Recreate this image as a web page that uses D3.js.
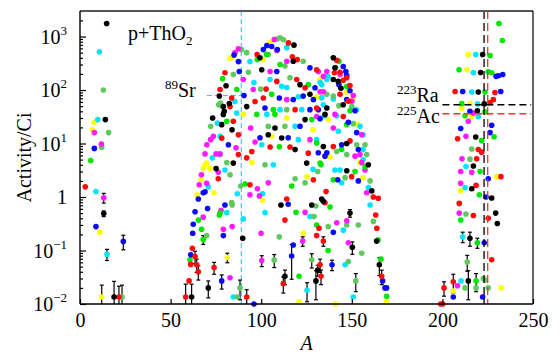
<!DOCTYPE html>
<html>
<head>
<meta charset="utf-8">
<script src="https://cdn.jsdelivr.net/npm/d3@7"></script>
<style>
  body { margin: 0; background: #fff; }
  svg text { font-family: "Liberation Serif", "Times New Roman", serif; }
</style>
</head>
<body>
<svg width="560" height="356"></svg>
<script>
// activity (Ci) vs mass number A, one array per colour, [A, activity, error?]
const black = [
  [14.7,1750],[14.0,28],[13.1,0.49,0.06],[18.8,0.0135,0.013],
  [80.6,120],[76.9,77],[82.4,56],[79.6,40],[73.2,30],[83.9,18],[75.1,3.4],
  [99.3,400],[118.1,690],[100.3,240],[117.7,345],[139.8,400],[140.7,260],[142.5,145],[139.8,157],[144.0,108],
  [121.4,126],[126.9,83],[79.1,49],[92.0,49],[136.2,46],[145.3,53],[79.1,35],[124.2,28],[135.2,35],
  [78.2,22.5],[107.6,19.5],[103.9,14.6],[111.3,12.7],[134.3,8.8],[147.2,10],[118.7,7.7],[84.6,4.3],[125.1,4.3],
  [147.2,3.1],[159.1,4.0],[110.9,0.71],[127.9,0.71],[134.3,0.83],[149.0,0.50,0.08],[133.4,0.92],[161.0,1.3],
  [89.8,0.17],[150.3,0.115,0.03],[163.7,0.15],[165.2,0.054,0.02],[113.1,0.033,0.01],[130.2,0.027,0.015],[131.2,0.043,0.01],
  [70.8,0.020,0.007],[61.6,0.0135,0.01],
  [215.2,0.17,0.05],[214.3,0.027,0.015],[229.4,0.50],[230.3,0.32],[227.2,0.96],[216.2,1.43],[217.1,3.8],
  [218.4,13.2],[219.3,41],[219.8,92],[221.1,212],[222.2,460],[223.1,55]
]
const red = [
  [2.9,1.55],[21.5,0.0135,0.008],
  [80.0,210],[77.3,102],[78.2,12.6],[76.3,2.2],[62.0,0.11],[63.5,0.077,0.02],[61.1,0.055],[64.4,0.054,0.015],
  [65.3,0.040,0.012],[74.0,0.048,0.012],[60.2,0.027],[58.3,0.0135,0.01],
  [97.7,460],[115,760],[117.2,420],[119.9,370],[130.6,240],[141.7,360],[147.2,170],[149,121],
  [108.6,145],[119.6,157],[124.2,110],[102.7,104],[101.2,71],[143.5,83],[83.7,71],[82.8,49],[96.6,61],[118.7,43],
  [130.6,46],[145.3,32],[148.1,62],[143.5,215],[140.4,210],[145.3,152],
  [84.6,26],[87.4,14.6],[139.8,8.8],[149,11.2],[94.8,7.1],[104.9,8.6],[115.9,8.6],[126.0,6.6],[87.4,6.2],[92.0,5.4],
  [93.8,1.7],[114.1,0.92],[113.1,0.37],[130.6,0.19],[134.3,0.15,0.03],[135.2,0.78],[128.8,2.1],[135.8,1.27],
  [131.9,0.26],[149.9,2.4],[161.9,1.0],[163.2,0.46],[163.8,0.26],[164.6,0.95],
  [132.5,0.054,0.015],[133,0.033,0.01],[112.2,0.024,0.008],[166.5,0.033,0.01],[92,0.0135,0.005],
  [207,94],[229,90],[228.1,66],[226.3,58],[208.4,12.3],[219.8,7.7],[221.7,6.9],[218.9,5.2],[232.3,2.4],
  [218.6,1.65],[209.3,0.76],[217.1,0.45],[225.3,0.40],[227.2,0.067],[206,0.026,0.01],[200.9,0.020,0.006],
  [199,0.010],[200.2,0.010]
]
const blue = [
  [7.9,8.1],[8.8,0.28],[23.9,0.148,0.045],
  [85,450],[81.9,9.5],[87.4,340],[101.2,570],[105.8,650],[108.9,570],[103.1,680],[108.6,222],[126.9,260],
  [145.3,275],[146.7,222],[147.2,187],[142.9,126],[149,97],[87.9,222],[129.7,110],[90.5,79],[110,71],[117.7,66],
  [123.2,77],[128.8,66],[147.2,66],[102.1,46],[126.9,43],[131.5,43],[151.8,41],[132.5,29],[148.1,25],[121.4,21],
  [152.7,16],[99.3,12.8],[114.9,12.8],[144.4,9.5],[153.6,7.7],[131.5,6.7],[136.2,6.7],[135.2,5.8],[142.2,2.1],[153.6,2.0],
  [68,1.2],[69,1.25],[65.3,0.92],[80,0.71],[70.4,0.61],[63.5,0.53],[62.5,0.31],[62.2,0.21],[79.1,0.19],[61.1,0.083],
  [78.2,0.027,0.008],[96,0.010],
  [114.9,0.73],[139.8,0.22],[117.7,0.127],[116.8,0.079,0.05],[139.1,0.054,0.012],[167,0.027],[168.3,0.020],[169.2,0.020],
  [211.2,94],[215.2,40],[227.2,22],[210.1,19],[226.3,16],[225.3,2.2],[229.6,180],[233.3,195],[230.9,185],[232.2,94],
  [224.1,1.0],[223.1,0.14],[206,0.0135],[222.2,0.0135]
]
const green = [
  [5.9,4.8],
  [78.7,163],[81,26],[76.9,0.46],[65.3,0.37],[67.1,0.25],[68,0.16,0.03],[60.7,0.067],
  [97.8,370],[103,460],[110.4,300],[142.9,345],[147.2,116],[86.5,102],[105.8,83],[126,126],[106.7,43],[97.5,35],
  [107.6,35],[127.9,28],[147.2,22.5],[130.6,10.2],[110,8.7],[144.4,7.7],[132.5,4.3],[149,41],[157.3,3.7],[133,4.0],
  [139.8,2.1],[151.8,3.0],[138,0.65],[91.1,1.75],[116.8,1.6],[119.2,0.52],[130.6,0.30],[77.3,0.50],[136.9,0.10],
  [164.5,0.158],[166.1,0.069],[120.9,0.033],[169.2,0.014],
  [231.2,1750],[233.1,840],[226.3,440],[209.2,240],[225.3,220],[227.2,210],[223.5,92],[210.7,56],[223.5,39],
  [212.5,33],[221.7,11.3],[228.5,13.4],[220.8,3.0],[220.4,1.1],[210.1,0.37],[219.3,0.14,0.03],[218.6,0.027,0.01]
]
const lightGreen = [
  [12.9,100],[15.8,16],[12,8.5],[23.2,0.0135,0.009],
  [76.5,53],[77.5,57],[78.3,50],[72.1,21],[82.8,2.6],[84,0.71],[69.9,0.19],
  [89.1,570],[92,500],[103.9,460],[110.4,950],[112.2,880],[108.8,900],[113.1,280],[123.2,345],[141.1,263],[84.6,195],
  [92.9,215],[115.9,170],[99.7,104],[136.2,83],[139.8,77],[114.1,43],[150,49],[142.9,51],[103.9,21],[113.1,21],
  [150.8,23.5],[152.7,9.5],[157.3,9.5],[141.7,7.1],[147.2,6.2],[158.2,6.2],[81,4.4],[102.1,4.0],[131.2,3.0],
  [146.3,2.3],[160.1,2.0],[88.7,1.6],[118.7,2.2],[124.2,1.85],[83.7,0.79],[130.2,0.68],[129.2,0.43],[137,0.28],
  [153.6,0.30],[147.2,0.30],[161.9,0.35],[110,0.18],[155.5,0.089],[127.9,0.067,0.02],[107.2,0.066,0.018],
  [148.1,0.062],[152.2,0.027,0.01],[88.3,0.020,0.008],[86.8,0.0135],
  [216.2,7.9],[215.2,5.1],[213,0.48],[213.7,0.061,0.02],[222.6,0.030],[223.5,0.028],[212.5,0.020],[218.6,0.020],[225.3,0.020]
]
const magenta = [
  [7.9,16],[11.8,9.8],[13.1,0.97,0.2],
  [72.1,11.8],[69,6.4],[75.1,6.4],[77.3,6.4],[76.3,2.9],[67,2.6],[65.8,1.7],[69.9,1.8],[77.8,0.56],[68,0.42],
  [79.1,0.25],[84,0.28],[82.8,0.031],
  [85.5,500],[87.4,590],[107.2,880],[108.6,550],[104.9,222],[114.1,345],[136.2,222],[131.5,222],[143.5,195],
  [90.1,157],[134.3,180],[95.6,102],[114.1,66],[132.5,93],[134.3,93],[148.1,117],[150,62],[150.8,79],[140.7,35],
  [130.6,32],[94.2,19.5],[139.8,19.5],[73.6,13.6],[126.9,11.8],[155.5,14.6],[70,9.5],[86.1,8.3],[96.6,10.7],
  [151.8,5.8],[154.5,6.2],
  [97.9,1.43],[103.9,1.85],[99,1.05],[93.8,1.1],[124.2,0.52],[99.9,0.21],[141.7,0.33],[147.2,0.36],[157.3,3.2],
  [155.5,4.4],[158.2,1.2],[122.9,0.15,0.03],[148.1,0.14],[100.3,0.065,0.015],
  [217.1,37],[214.3,26],[213,13.6],[210.8,5.2],[216.2,2.9],[210.1,3.0],[210.1,1.8],[209.3,0.50],[208.3,0.022]
]
const cyan = [
  [10.7,520],[9.8,28],[8.8,1.27],[14.9,0.085,0.02],
  [75.8,24],[73,5.4],[80,3.2],[70.8,1.55],[81,0.51],[84.6,0.0135],
  [93.8,340],[114.1,620],[96,138],[104.9,157],[111.3,117],[114.1,111],[132.5,138],[136.2,157],[136.9,178],
  [120.5,75],[85.5,61],[110.4,43],[122.4,43],[152.5,43],[133.4,126],[133.4,72],[134.3,53],[139.8,68],[135.2,33],
  [141.7,33],[86.5,37],[103.1,35],[132.5,30],[118.7,21],[154.5,21],[142.6,17],[156.2,14.6],[77.3,13.6],[120.5,11.8],
  [130.6,11.8],[100.3,9.5],[156.2,7.7],[77.3,6.2],[106.7,4.0],[140.7,3.2],[143.5,3.2],[144.4,1.85],[156.2,5.0],
  [159.1,1.5],[160.1,0.71],[86.8,1.15],[100.8,1.15],[128.6,3.3],[102.1,0.51],[90.1,0.39],[126.9,0.43],[145.3,0.24],
  [125.3,0.018,0.007],[146.3,0.054],[150.8,0.0135],
  [218.4,460],[217.1,210],[216.2,92],[219.4,55],[219.8,32],[213,3.7],[212.5,1.5],[211.2,0.18,0.04],[210.3,0.027]
]
const yellow = [
  [7.9,25],[6.8,18],[10.9,0.22],[12,0.0135,0.009],
  [82.8,390],[83.8,410],[69.9,4.3],[68.1,3.4],[71.7,3.4],[66.8,2.1],[74,1.2],[64.7,1.1],[81.3,0.074,0.015],
  [85.5,480],[101,370],[104.9,770],[90.1,35],[114.1,30],[128.6,18],[105.8,13.6],[94.8,4.4],[69,4.0],[125.3,2.4],
  [100.8,0.87],[123.2,0.21],[120.9,0.011],[141.1,0.010],[132.5,157],[130.6,74],[147.2,92],[150.7,66],[137,28],
  [153.5,22.5],[138,5.6],[154.5,4.4],[156.2,2.3],[169.2,0.011],
  [214.3,460],[213.6,240],[215.2,56],[210.6,45],[216.2,32],[230,2.4],[210.1,1.3],[206,0.0175],[232.4,0.020]
]

const xTicks = [0, 50, 100, 150, 200, 250]
const yTicks = [0.01, 0.1, 1, 10, 100, 1000]

// marked nuclides: A and activity of the guide lines
const sr89 = { A: 89, act: 79, fromA: 70 }
const ra223 = { A: 223, act: 53 }
const ac225 = { A: 225, act: 36 }

const W = 560, H = 356
const margin = { top: 11, right: 27, bottom: 52, left: 80 }
const FONT = "'Liberation Serif', 'Times New Roman', serif"

const svg = d3.select("svg")
const x = d3.scaleLinear().domain([0, 250]).range([margin.left, W - margin.right])
const y = d3.scaleLog().domain([0.01, 3000]).range([H - margin.bottom, margin.top])
const pL = x(0), pR = x(250), pT = y(3000), pB = y(0.01)

// guide lines (behind the points)
const guides = svg.append("g").attr("fill", "none")
  .attr("stroke", "#1fd3ea").attr("stroke-width", 1.1).attr("stroke-dasharray", "5,3")
guides.append("line")
  .attr("x1", x(sr89.A)).attr("x2", x(sr89.A)).attr("y1", pT).attr("y2", pB)
guides.append("line")
  .attr("x1", x(sr89.fromA)).attr("x2", x(sr89.A)).attr("y1", y(sr89.act)).attr("y2", y(sr89.act))

const series = [
  { pts: yellow, color: "#ffff00" },
  { pts: cyan, color: "#00e5ff" },
  { pts: lightGreen, color: "#5fc85f" },
  { pts: magenta, color: "#ff1aff" },
  { pts: green, color: "#00e600" },
  { pts: blue, color: "#0a0aff" },
  { pts: red, color: "#ff0a0a" },
  { pts: black, color: "#000000" },
]

// error bars, drawn in black
const errG = svg.append("g").attr("stroke", "#000").attr("stroke-width", 1.2)
series.forEach(s => {
  s.pts.filter(d => d[2]).forEach(d => {
    const lo = d[1] - d[2] > 0.01 ? y(d[1] - d[2]) : pB
    const hi = y(d[1] + d[2])
    const cx = x(d[0])
    errG.append("line").attr("x1", cx).attr("x2", cx).attr("y1", lo).attr("y2", hi)
    errG.append("line").attr("x1", cx - 2).attr("x2", cx + 2).attr("y1", hi).attr("y2", hi)
    if (lo < pB) errG.append("line").attr("x1", cx - 2).attr("x2", cx + 2).attr("y1", lo).attr("y2", lo)
  })
})

// points
series.forEach(s => {
  svg.append("g").selectAll("circle")
    .data(s.pts)
    .enter()
    .append("circle")
    .attr("cx", d => x(d[0]))
    .attr("cy", d => y(d[1]))
    .attr("r", 2.8)
    .attr("fill", s.color)
})

// dashed lines for 223Ra / 225Ac
const rg = svg.append("g").attr("fill", "none").attr("stroke-width", 1.3)
rg.append("line").attr("x1", x(ra223.A)).attr("x2", x(ra223.A)).attr("y1", pT).attr("y2", pB)
  .attr("stroke", "#000").attr("stroke-dasharray", "8,4")
rg.append("line").attr("x1", x(ac225.A)).attr("x2", x(ac225.A)).attr("y1", pT).attr("y2", pB)
  .attr("stroke", "#ff3030").attr("stroke-dasharray", "8,4")
rg.append("line").attr("x1", x(200)).attr("x2", x(249)).attr("y1", y(ra223.act)).attr("y2", y(ra223.act))
  .attr("stroke", "#000").attr("stroke-dasharray", "7,4")
rg.append("line").attr("x1", x(200)).attr("x2", x(249)).attr("y1", y(ac225.act)).attr("y2", y(ac225.act))
  .attr("stroke", "#ff3030").attr("stroke-dasharray", "7,4")

// axes, ticks pointing inward
const xAxis = svg.append("g")
  .attr("transform", `translate(0,${pB})`)
  .call(d3.axisBottom(x).tickValues(xTicks).tickSize(-5).tickPadding(9).tickFormat(d3.format("d")))
  .attr("font-family", FONT).attr("font-size", 20)
xAxis.select(".domain").remove()
xAxis.selectAll("text").attr("fill", "#000")

const minor = []
for (let e = -2; e <= 3; e++) for (let k = 2; k <= 9; k++) if (k * 10 ** e <= 3000) minor.push(k * 10 ** e)
const yMinor = svg.append("g").attr("transform", `translate(${pL},0)`)
  .call(d3.axisLeft(y).tickValues(minor).tickSize(-3).tickFormat(""))
yMinor.select(".domain").remove()
const yAxis = svg.append("g").attr("transform", `translate(${pL},0)`)
  .call(d3.axisLeft(y).tickValues(yTicks).tickSize(-6).tickFormat(""))
yAxis.select(".domain").remove()
svg.selectAll(".tick line").attr("stroke-width", 1.2)

// y tick labels with superscripts
yTicks.forEach(v => {
  const e = Math.round(Math.log10(v))
  const t = svg.append("text").attr("x", pL - 13).attr("y", y(v) + 7)
    .attr("text-anchor", "end").attr("font-size", 20).attr("font-family", FONT)
  if (e === 0) { t.text("1"); return }
  t.append("tspan").text("10")
  t.append("tspan").attr("font-size", 13).attr("dy", -9).text(e < 0 ? "\u2212" + (-e) : e)
})

// frame
svg.append("line").attr("x1", pL).attr("x2", pR).attr("y1", pT).attr("y2", pT)
  .attr("stroke", "#555").attr("stroke-width", 2)
svg.append("line").attr("x1", pR).attr("x2", pR).attr("y1", pT).attr("y2", pB)
  .attr("stroke", "#000").attr("stroke-width", 1.2)
svg.append("line").attr("x1", pL).attr("x2", pL).attr("y1", pT).attr("y2", pB)
  .attr("stroke", "#000").attr("stroke-width", 1.4)
svg.append("line").attr("x1", pL).attr("x2", pR).attr("y1", pB).attr("y2", pB)
  .attr("stroke", "#000").attr("stroke-width", 1.4)

// axis titles
svg.append("text")
  .attr("transform", `translate(31,${(pT + pB) / 2}) rotate(-90)`)
  .attr("text-anchor", "middle").attr("font-size", 20).attr("font-family", FONT)
  .text("Activity/Ci")
svg.append("text")
  .attr("x", (pL + pR) / 2).attr("y", 350)
  .attr("text-anchor", "middle").attr("font-size", 20).attr("font-style", "italic").attr("font-family", FONT)
  .text("A")

// annotations
const title = svg.append("text").attr("x", 128).attr("y", 40).attr("font-size", 20).attr("font-family", FONT)
title.append("tspan").text("p+ThO")
title.append("tspan").attr("font-size", 13).attr("dy", 5).text("2")

function nuclide(px, py, mass, sym) {
  const t = svg.append("text").attr("x", px).attr("y", py).attr("font-size", 20).attr("font-family", FONT)
  t.append("tspan").attr("font-size", 13).attr("dy", -8).text(mass)
  t.append("tspan").attr("dy", 8).text(sym)
}
nuclide(165, 97, "89", "Sr")
nuclide(397, 102, "223", "Ra")
nuclide(397, 123, "225", "Ac")
</script>
</body>
</html>
